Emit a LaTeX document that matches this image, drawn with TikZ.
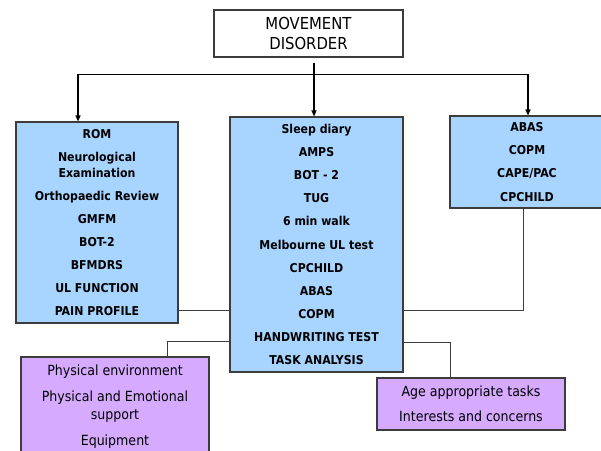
\documentclass[tikz,border=0pt]{standalone}
\usepackage{fontspec}
\setmainfont{DejaVu Sans Condensed}
\usetikzlibrary{arrows.meta}
\definecolor{boxblue}{RGB}{168,213,255}
\definecolor{boxpurple}{RGB}{214,170,255}
\definecolor{edgegray}{RGB}{60,60,60}
\begin{document}
\begin{tikzpicture}[x=1pt,y=-1pt,
  box/.style={draw=edgegray, line width=1.1pt, inner sep=0pt, align=center},
  bluebox/.style={box, fill=boxblue, font=\bfseries\fontsize{12.2}{16}\selectfont},
  purplebox/.style={box, fill=boxpurple, font=\fontsize{14}{18}\selectfont},
  link/.style={draw=edgegray, line width=0.9pt},
  feed/.style={draw=black, line width=1.2pt, -{Triangle[length=6pt,width=5pt]}},
]
\useasboundingbox (0,0) rectangle (601,450);
\clip (0,0) rectangle (601,450);
\fill[white] (0,0) rectangle (601,450);
\node[box, fill=white, minimum width=189pt, minimum height=47pt, font=\fontsize{16.5}{20}\selectfont] (top) at (308.5,33.5) {MOVEMENT\\DISORDER};
\node[bluebox, minimum width=162pt, minimum height=201pt] (left) at (97,222.5) {ROM\\[7.1pt]Neurological\\Examination\\[7.1pt]Orthopaedic Review\\[7.1pt]GMFM\\[7.1pt]BOT-2\\[7.1pt]BFMDRS\\[7.1pt]UL FUNCTION\\[7.1pt]PAIN PROFILE};
\node[bluebox, minimum width=173pt, minimum height=255pt] (mid) at (316.5,244.5) {Sleep diary\\[7.1pt]AMPS\\[7.1pt]BOT - 2\\[7.1pt]TUG\\[7.1pt]6 min walk\\[7.1pt]Melbourne UL test\\[7.1pt]CPCHILD\\[7.1pt]ABAS\\[7.1pt]COPM\\[7.1pt]HANDWRITING TEST\\[7.1pt]TASK ANALYSIS};
\node[bluebox, minimum width=154pt, minimum height=92pt] (right) at (527,162) {ABAS\\[7.1pt]COPM\\[7.1pt]CAPE/PAC\\[7.1pt]CPCHILD};
\node[purplebox, minimum width=188pt, minimum height=100pt] (env) at (115,407) {Physical environment\\[8pt]Physical and Emotional\\support\\[8pt]Equipment};
\node[purplebox, minimum width=188pt, minimum height=52pt] (tasks) at (471,404) {Age appropriate tasks\\[7pt]Interests and concerns};
\coordinate (busL) at (78,74);
\coordinate (busR) at (528,74);
\coordinate (stem) at (314,63);
\draw[black, line width=1pt] (busL) -- (busR);
\draw[feed] (busL) -- (busL |- left.north);
\draw[feed] (busR) -- (busR |- right.north);
\draw[feed] (stem) -- (stem |- mid.north);
\coordinate (ylink) at (0,310);
\draw[link] (left.east |- ylink) -- (mid.west |- ylink);
\coordinate (rdrop) at (523,310);
\draw[link] (rdrop |- right.south) -- (rdrop) -- (mid.east |- rdrop);
\coordinate (lk) at (167,341);
\draw[link] (mid.west |- lk) -- (lk) -- (lk |- env.north);
\coordinate (rk) at (450,342);
\draw[link] (mid.east |- rk) -- (rk) -- (rk |- tasks.north);
\end{tikzpicture}
\end{document}
